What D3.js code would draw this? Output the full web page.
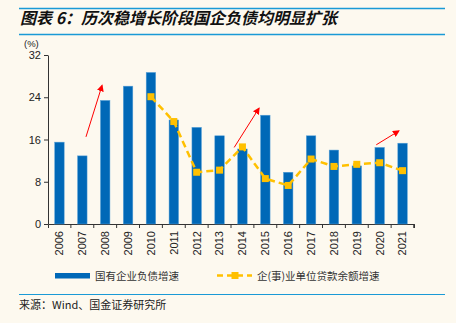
<!DOCTYPE html>
<html>
<head>
<meta charset="utf-8">
<script src="https://cdn.jsdelivr.net/npm/d3@7/dist/d3.min.js"></script>
<style>
  html, body { margin: 0; padding: 0; background: #fdf9ef; }
  svg { display: block; font-family: "Liberation Sans", Arial, sans-serif; }
</style>
</head>
<body>
<svg id="chart" width="456" height="323"></svg>
<script>
// Dados do gráfico
const years = ['2006', '2007', '2008', '2009', '2010', '2011', '2012', '2013',
    '2014', '2015', '2016', '2017', '2018', '2019', '2020', '2021'];
const soeDebt = [15.5, 12.9, 23.4, 26.1, 28.7, 19.7, 18.3, 16.7,
    14.2, 20.6, 9.8, 16.7, 14.0, 11.0, 14.5, 15.3];
const loanYears = ['2010', '2011', '2012', '2013', '2014', '2015', '2016',
    '2017', '2018', '2019', '2020', '2021'];
const loanGrowth = [24.1, 19.4, 9.8, 10.2, 14.6, 8.6, 7.3, 12.3, 10.9, 11.3, 11.6, 10.1];
const yTicks = [0, 8, 16, 24, 32];
// Setas: [ano, deslocamento, valor] início -> fim
const arrows = [
    [['2007', 0.16, 16.5], ['2008', -0.14, 26.2]],
    [['2014', -0.36, 14.5], ['2015', -0.28, 21.9]],
    [['2020', -0.15, 15.0], ['2021', -0.17, 17.6]]
];

const title = '图表 6：历次稳增长阶段国企负债均明显扩张';
const legendBar = '国有企业负债增速';
const legendLine = '企(事)业单位贷款余额增速';
const source = '来源：Wind、国金证券研究所';

const svg = d3.select('#chart');
const cjk = '"Noto Sans CJK SC", sans-serif';
const blueRule = '#1a9ad6';

// Cabeçalho
svg.append('line').attr('x1', 19).attr('x2', 445).attr('y1', 8.5).attr('y2', 8.5)
    .attr('stroke', blueRule).attr('stroke-width', 1.5);
svg.append('line').attr('x1', 19).attr('x2', 445).attr('y1', 34.5).attr('y2', 34.5)
    .attr('stroke', blueRule).attr('stroke-width', 1.5);
svg.append('text').attr('x', 20).attr('y', 24)
    .attr('font-family', cjk).attr('font-size', 16).attr('font-weight', 'bold')
    .attr('font-style', 'italic').attr('fill', '#111')
    .text(title);

const x = d3.scaleBand().domain(years).range([48, 414]);
const y = d3.scaleLinear().domain([0, 32]).range([224, 55]);

const g = svg.append('g');

// Eixos
const xAxis = g.append('g').attr('transform', 'translate(0,224)')
    .call(d3.axisBottom(x).tickSizeOuter(0).tickSize(4));
xAxis.selectAll('.tick line').attr('transform', 'translate(' + (x.step() / 2) + ',0)');
xAxis.append('line').attr('x1', 414).attr('x2', 414).attr('y1', 0).attr('y2', 4).attr('stroke', '#333');
xAxis.select('.domain').attr('stroke', '#333');
xAxis.selectAll('.tick line').attr('stroke', '#333');
xAxis.selectAll('text')
    .attr('transform', 'rotate(-90)')
    .attr('x', -7).attr('y', 0).attr('dy', '0.35em')
    .style('text-anchor', 'end')
    .attr('font-size', 11).attr('fill', '#222');

const yAxis = g.append('g').attr('transform', 'translate(48,0)')
    .call(d3.axisLeft(y).tickValues(yTicks).tickSize(4).tickSizeOuter(0));
yAxis.select('.domain').attr('stroke', '#333');
yAxis.selectAll('.tick line').attr('stroke', '#333');
yAxis.selectAll('text').attr('font-size', 11).attr('fill', '#222').attr('x', -7);

svg.append('text').attr('x', 24).attr('y', 46.5).attr('font-size', 9.5).attr('fill', '#222').text('(%)');

// Barras
const barW = 9.5;
g.selectAll('.bar').data(years).enter().append('rect')
    .attr('class', 'bar')
    .attr('x', function (d) { return x(d) + x.bandwidth() / 2 - barW / 2; })
    .attr('y', function (d, i) { return y(soeDebt[i]); })
    .attr('width', barW)
    .attr('height', function (d, i) { return y(0) - y(soeDebt[i]); })
    .attr('fill', '#0068b7')
    .attr('stroke', '#5aa3d9').attr('stroke-width', 0.5);

// Linha tracejada
const cx = function (d) { return x(d) + x.bandwidth() / 2; };
const line = d3.line()
    .x(function (d) { return cx(d); })
    .y(function (d, i) { return y(loanGrowth[i]); });
g.append('path').datum(loanYears)
    .attr('d', line)
    .attr('fill', 'none')
    .attr('stroke', '#ffc000')
    .attr('stroke-width', 2.5)
    .attr('stroke-dasharray', '7,4');
g.selectAll('.pt').data(loanYears).enter().append('rect')
    .attr('class', 'pt')
    .attr('x', function (d) { return cx(d) - 3.5; })
    .attr('y', function (d, i) { return y(loanGrowth[i]) - 3.5; })
    .attr('width', 7).attr('height', 7)
    .attr('fill', '#ffc000');

// Setas vermelhas
svg.append('defs').append('marker')
    .attr('id', 'head').attr('viewBox', '0 0 10 10')
    .attr('refX', 8).attr('refY', 5)
    .attr('markerWidth', 7).attr('markerHeight', 7)
    .attr('markerUnits', 'userSpaceOnUse')
    .attr('orient', 'auto')
    .append('path').attr('d', 'M0,0 L10,5 L0,10 z').attr('fill', '#ff0000');
const ax = function (p) { return cx(p[0]) + p[1] * x.step(); };
g.selectAll('.arrow').data(arrows).enter().append('line')
    .attr('x1', function (d) { return ax(d[0]); })
    .attr('y1', function (d) { return y(d[0][2]); })
    .attr('x2', function (d) { return ax(d[1]); })
    .attr('y2', function (d) { return y(d[1][2]); })
    .attr('stroke', '#ff0000').attr('stroke-width', 1)
    .attr('marker-end', 'url(#head)');

// Legenda
const lg = svg.append('g');
lg.append('rect').attr('x', 55).attr('y', 273).attr('width', 35).attr('height', 5.5).attr('fill', '#0068b7');
lg.append('text').attr('x', 95).attr('y', 280).attr('font-family', cjk).attr('font-size', 10.5)
    .attr('fill', '#333').text(legendBar);
lg.append('line').attr('x1', 217).attr('x2', 252).attr('y1', 275.5).attr('y2', 275.5)
    .attr('stroke', '#ffc000').attr('stroke-width', 2.5).attr('stroke-dasharray', '6,4');
lg.append('rect').attr('x', 231.5).attr('y', 272).attr('width', 7).attr('height', 7).attr('fill', '#ffc000');
lg.append('text').attr('x', 257).attr('y', 280).attr('font-family', cjk).attr('font-size', 10.5)
    .attr('fill', '#333').text(legendLine);

// Rodapé
svg.append('line').attr('x1', 19).attr('x2', 445).attr('y1', 294.5).attr('y2', 294.5)
    .attr('stroke', blueRule).attr('stroke-width', 1.2);
svg.append('text').attr('x', 19).attr('y', 309).attr('font-family', cjk).attr('font-size', 11)
    .attr('fill', '#222').text(source);
</script>
</body>
</html>
